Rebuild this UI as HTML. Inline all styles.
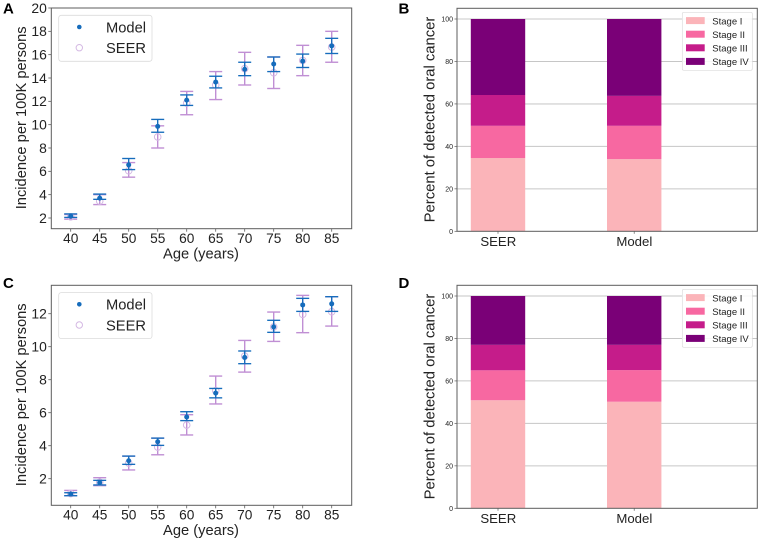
<!DOCTYPE html>
<html lang="en">
<head>
<meta charset="utf-8">
<title>Oral cancer incidence and stage distribution</title>
<style>
html,body{margin:0;padding:0;background:#fff;}
#figure{display:block;width:760px;height:542px;font-family:"Liberation Sans",sans-serif;}
</style>
</head>
<body>
<svg id="figure" xmlns="http://www.w3.org/2000/svg" width="760" height="542" viewBox="0 0 760 542">
<defs><filter id="soft" x="-5%" y="-5%" width="110%" height="110%"><feGaussianBlur stdDeviation="0.38"/></filter></defs>
<g id="root" filter="url(#soft)"></g>
</svg>
<script>
const ages = [40,45,50,55,60,65,70,75,80,85];

const aTicks = [2,4,6,8,10,12,14,16,18,20];
const aModel = [2.15,3.7,6.55,9.85,12.1,13.65,14.75,15.2,15.45,16.75];
const aModelHi = [2.35,4.05,7.1,10.45,12.55,14.15,15.35,15.8,16.05,17.4];
const aModelLo = [2.05,3.6,6.15,9.35,11.65,13.15,14.2,14.55,14.9,16.1];
const aSeer = [2.1,3.45,6.05,8.95,11.85,13.4,14.8,14.45,15.5,16.65];
const aSeerHi = [2.3,4.0,6.75,9.9,12.85,14.55,16.2,15.8,16.8,18.0];
const aSeerLo = [1.9,3.15,5.5,8.0,10.85,12.15,13.4,13.1,14.2,15.35];

const cTicks = [2,4,6,8,10,12];
const cModel = [1.07,1.76,3.09,4.24,5.74,7.19,9.35,11.2,12.53,12.6];
const cModelHi = [1.15,1.9,3.37,4.46,6.06,7.47,9.74,11.6,12.93,13.03];
const cModelLo = [0.97,1.62,2.87,4.02,5.52,6.9,8.97,10.87,12.14,12.14];
const cSeer = [1.1,1.78,2.95,3.92,5.25,7.33,9.43,11.2,11.96,12.12];
const cSeerHi = [1.29,2.06,3.37,4.46,5.88,8.22,10.38,12.1,13.11,13.03];
const cSeerLo = [0.97,1.58,2.53,3.45,4.65,6.53,8.46,10.32,10.85,11.25];

const stageNames = ["Stage I","Stage II","Stage III","Stage IV"];
const barCategories = ["SEER","Model"];
const percentTicks = [0,20,40,60,80,100];
const bSeerStages = [34.5,15.2,14.5,35.8];
const bModelStages = [34.0,15.7,14.1,36.2];
const dSeerStages = [50.9,14.1,12.0,23.0];
const dModelStages = [50.2,14.9,11.9,23.0];

const NS = "http://www.w3.org/2000/svg";
const root = document.getElementById("root");
const stageColors = ["#fbb4b9","#f768a1","#c51b8a","#7a0177"];
const TXT = "#222222", FRAME = "#5c5c5c", BLUE = "#146cbc", PURPLE = "#c08fd4", RING = "#d4b8e3";

function mk(parent, tag, attrs, text) {
  const el = document.createElementNS(NS, tag);
  for (const k in attrs) el.setAttribute(k, attrs[k]);
  if (text !== undefined) el.textContent = text;
  parent.appendChild(el);
  return el;
}
function group(parent, name) {
  const g = mk(parent, "g", {});
  
  
  return g;
}

function panelLetter(letter, x, y) {
  const t = mk(root, "text", {x:x, y:y, "font-size":15, "font-weight":"bold", fill:"#000"}, letter);
  
  
}

function errorPanel(id, box, yRef, ticks, model, modelHi, modelLo, seer, seerHi, seerLo) {
  const panel = group(root, "panel-" + id);
  const sx = a => 70.7 + (a - 40) * 5.8;
  const sy = v => yRef.y0 - (v - yRef.v0) * yRef.k;

  const frame = mk(panel, "rect", {x:box.l, y:box.t, width:box.r-box.l, height:box.b-box.t, fill:"#fff", stroke:FRAME, "stroke-width":1});
  
  

  const yAxis = group(panel, "y-axis");
  ticks.forEach(v => {
    mk(yAxis, "line", {x1:box.l-3, x2:box.l, y1:sy(v), y2:sy(v), stroke:FRAME, "stroke-width":0.8});
    const t = mk(yAxis, "text", {x:box.l-4.5, y:sy(v)+4.9, "text-anchor":"end", "font-size":13.9, fill:TXT}, String(v));
    
    
  });
  const yc = (box.t + box.b) / 2 - 0.5;
  const yt = mk(panel, "text", {x:0, y:0, transform:"translate(26," + yc + ") rotate(-90)", "text-anchor":"middle", "font-size":14.7, fill:TXT}, "Incidence per 100K persons");
  
  

  const xAxis = group(panel, "x-axis");
  ages.forEach(a => {
    mk(xAxis, "line", {x1:sx(a), x2:sx(a), y1:box.b, y2:box.b+3, stroke:FRAME, "stroke-width":0.8});
    const t = mk(xAxis, "text", {x:sx(a), y:box.b+14.2, "text-anchor":"middle", "font-size":13.7, fill:TXT}, String(a));
    
    
  });
  const xt = mk(panel, "text", {x:201, y:box.b+29.6, "text-anchor":"middle", "font-size":14.7, fill:TXT}, "Age (years)");
  
  

  function errSeries(name, vals, hi, lo, color, width) {
    const g = group(panel, name + "-error-bars");
    vals.forEach((_, i) => {
      const x = sx(ages[i]);
      mk(g, "line", {x1:x, x2:x, y1:sy(hi[i]), y2:sy(lo[i]), stroke:color, "stroke-width":width});
      mk(g, "line", {x1:x-6.5, x2:x+6.5, y1:sy(hi[i]), y2:sy(hi[i]), stroke:color, "stroke-width":width});
      mk(g, "line", {x1:x-6.5, x2:x+6.5, y1:sy(lo[i]), y2:sy(lo[i]), stroke:color, "stroke-width":width});
    });
  }
  errSeries("seer", seer, seerHi, seerLo, PURPLE, 1.4);
  const seerPts = group(panel, "seer-points");
  seer.forEach((v, i) => {
    mk(seerPts, "circle", {cx:sx(ages[i]), cy:sy(v), r:3.3, fill:"none", stroke:RING, "stroke-width":1});
  });
  errSeries("model", model, modelHi, modelLo, BLUE, 1.35);
  const modelPts = group(panel, "model-points");
  model.forEach((v, i) => {
    mk(modelPts, "circle", {cx:sx(ages[i]), cy:sy(v), r:2.5, fill:BLUE});
  });

  const lg = group(panel, "legend");
  const ly = box.t + 7.3;
  mk(lg, "rect", {x:58.7, y:ly, width:93.3, height:46, rx:2.5, fill:"#fff", "fill-opacity":0.85, stroke:"#dcdcdc", "stroke-width":0.8});
  mk(lg, "circle", {cx:79.3, cy:ly+11.7, r:2.3, fill:BLUE});
  mk(lg, "circle", {cx:79.3, cy:ly+32.4, r:3.2, fill:"none", stroke:RING, "stroke-width":1});
  const l1 = mk(lg, "text", {x:106, y:ly+17, "font-size":14.7, fill:TXT}, "Model");
  
  
  const l2 = mk(lg, "text", {x:106, y:ly+37.7, "font-size":14.7, fill:TXT}, "SEER");
  
  
}

function stackPanel(id, box, seerStages, modelStages, softGridTicks) {
  const panel = group(root, "panel-" + id);
  const sy = v => box.b - v * (box.b - box.t - 10.7) / 100;
  const catX = [498, 634.2];
  const barW = 54.4;

  const frame = mk(panel, "rect", {x:box.l, y:box.t, width:box.r-box.l, height:box.b-box.t, fill:"#fff", stroke:"none"});
  
  

  const grid = group(panel, "gridlines");
  percentTicks.forEach(v => {
    if (v === 0) return;
    const soft = softGridTicks.includes(v);
    mk(grid, "line", {x1:box.l, x2:box.r, y1:sy(v), y2:sy(v), stroke: soft ? "#e0e0e0" : "#c6c6c6", "stroke-width": soft ? 1.8 : 1});
  });

  [seerStages, modelStages].forEach((stages, c) => {
    const g = group(panel, "stacked-bar-" + barCategories[c].toLowerCase());
    let base = 0;
    stages.forEach((v, s) => {
      const r = mk(g, "rect", {x:catX[c]-barW/2, y:sy(base+v), width:barW, height:sy(base)-sy(base+v), fill:stageColors[s]});
      
      
      base += v;
    });
  });

  const border = mk(panel, "rect", {x:box.l, y:box.t, width:box.r-box.l, height:box.b-box.t, fill:"none", stroke:FRAME, "stroke-width":1});
  
  

  const yAxis = group(panel, "y-axis");
  percentTicks.forEach(v => {
    mk(yAxis, "line", {x1:box.l-2.5, x2:box.l, y1:sy(v), y2:sy(v), stroke:FRAME, "stroke-width":0.7});
    const t = mk(yAxis, "text", {x:box.l-4, y:sy(v)+2.5, "text-anchor":"end", "font-size":7, fill:TXT}, String(v));
    
    
  });
  const yc = (box.t + box.b) / 2 - 0.3;
  const yt = mk(panel, "text", {x:0, y:0, transform:"translate(434.5," + yc + ") rotate(-90)", "text-anchor":"middle", "font-size":14.8, fill:TXT}, "Percent of detected oral cancer");
  
  

  const xAxis = group(panel, "x-axis");
  barCategories.forEach((c, i) => {
    const cx = i === 0 ? 498.3 : 634.3;
    mk(xAxis, "line", {x1:catX[i], x2:catX[i], y1:box.b, y2:box.b+2.5, stroke:FRAME, "stroke-width":0.7});
    const t = mk(xAxis, "text", {x:cx, y:box.b+14.8, "text-anchor":"middle", "font-size":13.2, fill:TXT}, c);
    
    
  });

  const lg = group(panel, "legend");
  const ly = box.t + 4;
  mk(lg, "rect", {x:682.3, y:ly, width:70, height:58, rx:1.5, fill:"#fff", "fill-opacity":0.85, stroke:"#dcdcdc", "stroke-width":0.7});
  stageNames.forEach((n, i) => {
    mk(lg, "rect", {x:686, y:ly+4.8+i*13.6, width:18.7, height:7, fill:stageColors[i]});
    const t = mk(lg, "text", {x:712.3, y:ly+12+i*13.6, "font-size":9.5, fill:TXT}, n);
    
    
  });
}

panelLetter("A", 3, 13.7);
panelLetter("B", 398.5, 13.7);
panelLetter("C", 3, 288);
panelLetter("D", 398.5, 288);

errorPanel("a", {l:51.3, r:351.7, t:8, b:228.7}, {y0:218, v0:2, k:11.667},
  aTicks, aModel, aModelHi, aModelLo, aSeer, aSeerHi, aSeerLo);
errorPanel("c", {l:51.3, r:351.7, t:285.3, b:505.3}, {y0:478.7, v0:2, k:16.5},
  cTicks, cModel, cModelHi, cModelLo, cSeer, cSeerHi, cSeerLo);
stackPanel("b", {l:457, r:757.3, t:8.3, b:231.3}, bSeerStages, bModelStages, [100, 60]);
stackPanel("d", {l:457, r:757.3, t:285.3, b:508.3}, dSeerStages, dModelStages, []);
</script>
</body>
</html>
